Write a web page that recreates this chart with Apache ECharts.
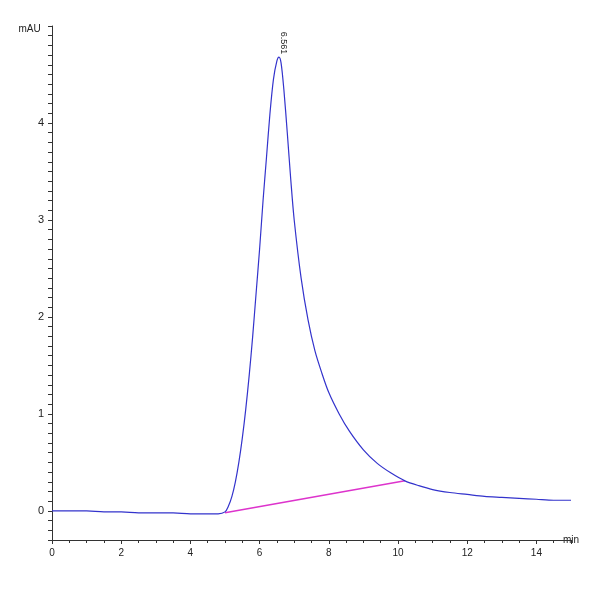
<!DOCTYPE html>
<html>
<head>
<meta charset="utf-8">
<script src="https://cdn.jsdelivr.net/npm/echarts@6/dist/echarts.min.js"></script>
<style>html,body{margin:0;padding:0;background:#fff}#main{width:600px;height:600px}</style>
</head>
<body>
<div id="main"></div>
<script>
// retention time (min) and signal (mAU)
const times = [0, 0.5, 1, 1.5, 2, 2.5, 3, 3.5, 4, 4.5, 4.8, 5.0, 5.1, 5.2, 5.3, 5.4, 5.5, 5.6, 5.7, 5.8, 5.9, 6.0, 6.1, 6.2, 6.3, 6.4, 6.5, 6.56, 6.62, 6.7, 6.8, 6.9, 7.0, 7.2, 7.4, 7.6, 7.8, 8.0, 8.3, 8.6, 9.0, 9.4, 9.8, 10.2, 10.6, 11.0, 11.5, 12.0, 12.5, 13.0, 13.5, 14.0, 14.5, 15.0];
const signal = [0.0, 0.0, 0.0, -0.01, -0.01, -0.02, -0.02, -0.02, -0.03, -0.03, -0.03, -0.01, 0.05, 0.15, 0.3, 0.5, 0.75, 1.05, 1.4, 1.8, 2.25, 2.7, 3.2, 3.65, 4.1, 4.45, 4.64, 4.68, 4.62, 4.35, 3.9, 3.42, 3.0, 2.4, 1.97, 1.65, 1.42, 1.22, 1.0, 0.82, 0.63, 0.49, 0.39, 0.31, 0.26, 0.22, 0.19, 0.17, 0.15, 0.14, 0.13, 0.12, 0.11, 0.11];
const baseline = [[5.0, -0.02], [10.2, 0.31]];
const peakLabel = '6.561';

const chart = echarts.init(document.getElementById('main'));
const trace = times.map((t, i) => [t, signal[i]]);
const near = (v, step) => Math.abs(v / step - Math.round(v / step)) < 1e-6;

chart.setOption({
  animation: false,
  grid: { left: 52, right: 29, top: 26, bottom: 60 },
  xAxis: {
    type: 'value', min: 0, max: 15, interval: 2,
    name: 'min', nameLocation: 'end', nameGap: -8,
    nameTextStyle: { fontSize: 10, color: '#222', padding: [28, 0, 0, 0] },
    axisLine: { onZero: false, lineStyle: { color: '#333' } },
    axisTick: { length: 4, lineStyle: { color: '#333' } },
    minorTick: { show: true, splitNumber: 4, length: 3, lineStyle: { color: '#333' } },
    axisLabel: { fontSize: 10, color: '#222', formatter: v => v >= 15 ? '' : v },
    splitLine: { show: false }
  },
  yAxis: {
    type: 'value', min: -0.3, max: 5.0, interval: 0.1,
    name: 'mAU', nameLocation: 'end', nameGap: -8,
    nameTextStyle: { fontSize: 10, color: '#222', padding: [0, 45, 0, 0] },
    axisLine: { show: true, lineStyle: { color: '#333' } },
    axisTick: { show: true, length: 4, lineStyle: { color: '#333' },
      interval: (i, v) => near(Number(v), 0.2) },
    axisLabel: { fontSize: 11, color: '#222', interval: 0,
      formatter: v => (near(v, 1) && v < 4.99) ? String(Math.round(v)) : '' },
    splitLine: { show: false }
  },
  series: [
    {
      type: 'line', data: trace, smooth: 0.3, symbol: 'none',
      lineStyle: { color: '#3333cc', width: 1.2 },
      markPoint: {
        symbol: 'circle', symbolSize: 0,
        data: [{ coord: [6.56, 4.68] }],
        label: { show: true, formatter: peakLabel, rotate: -90, fontSize: 9, color: '#222', position: 'top', distance: 14 }
      }
    },
    {
      type: 'line', data: baseline, symbol: 'none',
      lineStyle: { color: '#dd33cc', width: 1.5 }, z: 1
    }
  ]
});
</script>
</body>
</html>
